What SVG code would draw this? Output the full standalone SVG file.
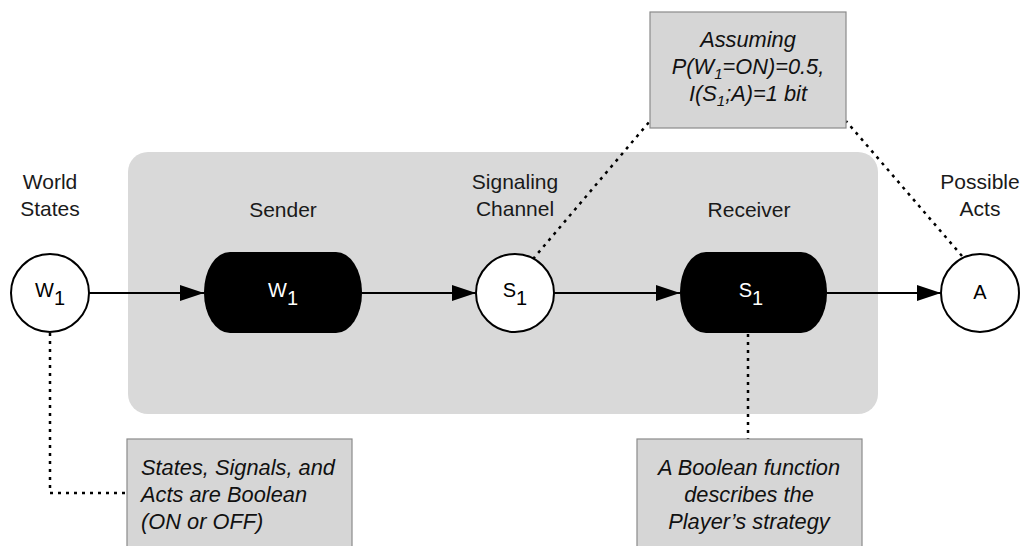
<svg xmlns="http://www.w3.org/2000/svg" width="1024" height="546" viewBox="0 0 1024 546">
<defs>
<style>
.lbl{font-family:"Liberation Sans",Arial,sans-serif;font-size:21px;fill:#1a1a1a;text-anchor:middle}
.note{font-family:"Liberation Sans",Arial,sans-serif;font-size:21.8px;font-style:italic;fill:#111}
.nodet{font-family:"Liberation Sans",Arial,sans-serif;font-size:20px;text-anchor:middle}
.circ{fill:#fff;stroke:#000;stroke-width:2}
.blk{fill:#000}
.box{fill:#d6d6d6;stroke:#8a8a8a;stroke-width:1.2}
.edge{stroke:#000;stroke-width:2;fill:none}
.dot{stroke:#000;stroke-width:2.5;fill:none;stroke-dasharray:3 5}
</style>
<marker id="arr" viewBox="0 0 24 16" refX="24" refY="8" markerWidth="24" markerHeight="16" markerUnits="userSpaceOnUse" orient="auto">
<path d="M0,0 L24,8 L0,16 Z" fill="#000"/>
</marker>
</defs>
<rect width="1024" height="546" fill="#fff"/>
<rect id="channel-bg" x="128" y="152" width="750" height="262" rx="20" ry="20" fill="#d9d9d9"/>

<g id="connectors">
<line class="edge" x1="89" y1="293" x2="204" y2="293" marker-end="url(#arr)"/>
<line class="edge" x1="362" y1="293" x2="476" y2="293" marker-end="url(#arr)"/>
<line class="edge" x1="554" y1="293" x2="680" y2="293" marker-end="url(#arr)"/>
<line class="edge" x1="827" y1="293" x2="941" y2="293" marker-end="url(#arr)"/>
<polyline class="dot" points="50,333 50,493 127,493"/>
<line class="dot" x1="748" y1="334" x2="748" y2="439"/>
<line class="dot" x1="533" y1="259" x2="650" y2="121"/>
<line class="dot" x1="962" y1="256" x2="846" y2="121"/>
</g>

<g id="world-states">
<text class="lbl" x="50" y="189">World</text>
<text class="lbl" x="50" y="216">States</text>
<circle class="circ" cx="50" cy="293" r="39"/>
<text class="nodet" x="50" y="297">W<tspan dy="8">1</tspan></text>
</g>

<g id="sender">
<text class="lbl" x="283" y="217">Sender</text>
<rect class="blk" x="204" y="252" width="158" height="81" rx="26" ry="40"/>
<text class="nodet" x="283" y="297" fill="#fff">W<tspan dy="8">1</tspan></text>
</g>

<g id="signaling-channel">
<text class="lbl" x="515" y="189">Signaling</text>
<text class="lbl" x="515" y="216">Channel</text>
<circle class="circ" cx="515" cy="293" r="39"/>
<text class="nodet" x="515" y="297">S<tspan dy="8">1</tspan></text>
</g>

<g id="receiver">
<text class="lbl" x="749" y="217">Receiver</text>
<rect class="blk" x="680" y="252" width="147" height="81" rx="26" ry="40"/>
<text class="nodet" x="751" y="297" fill="#fff">S<tspan dy="8">1</tspan></text>
</g>

<g id="possible-acts">
<text class="lbl" x="980" y="189">Possible</text>
<text class="lbl" x="980" y="216">Acts</text>
<circle class="circ" cx="980" cy="293" r="39"/>
<text class="nodet" x="980" y="299">A</text>
</g>

<g id="note-assumption">
<rect class="box" x="650" y="12" width="196" height="116"/>
<text class="note" x="748" y="47" text-anchor="middle">Assuming</text>
<text class="note" x="748" y="74" text-anchor="middle">P(W<tspan dy="5" font-size="15">1</tspan><tspan dy="-5">=ON)=0.5,</tspan></text>
<text class="note" x="748" y="101" text-anchor="middle">I(S<tspan dy="5" font-size="15">1</tspan><tspan dy="-5">;A)=1 bit</tspan></text>
</g>

<g id="note-boolean">
<rect class="box" x="127" y="439" width="225" height="120"/>
<text class="note" x="141" y="475">States, Signals, and</text>
<text class="note" x="141" y="502">Acts are Boolean</text>
<text class="note" x="141" y="529">(ON or OFF)</text>
</g>

<g id="note-strategy">
<rect class="box" x="637" y="439" width="225" height="120"/>
<text class="note" x="749" y="475" text-anchor="middle">A Boolean function</text>
<text class="note" x="749" y="502" text-anchor="middle">describes the</text>
<text class="note" x="749" y="529" text-anchor="middle">Player’s strategy</text>
</g>
</svg>
